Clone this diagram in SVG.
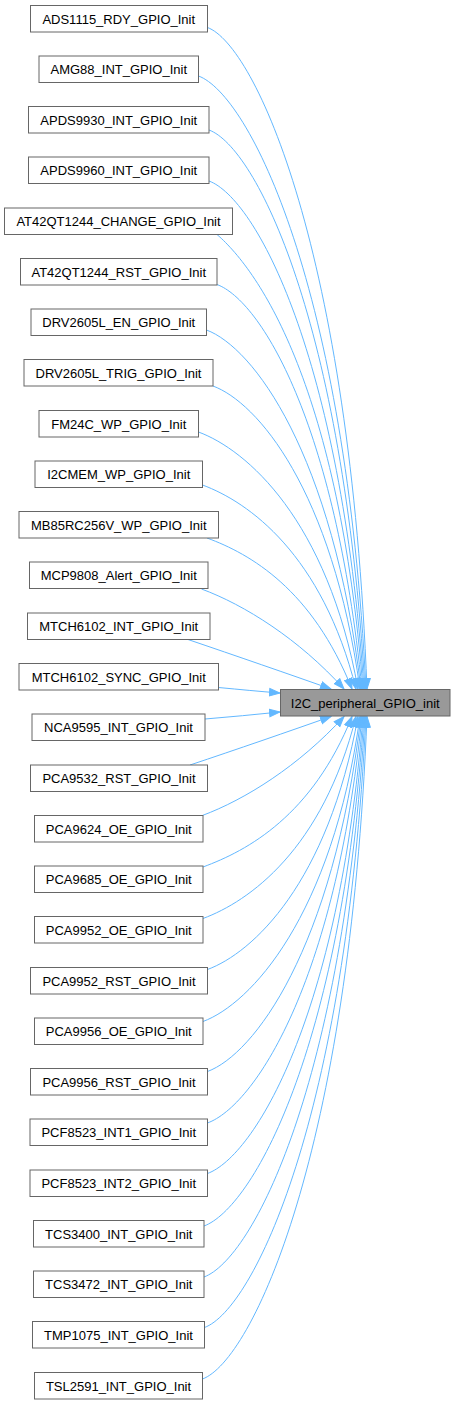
<svg xmlns="http://www.w3.org/2000/svg" width="455" height="1405" viewBox="0 0 455 1405">
<style>
.n rect{fill:#ffffff;stroke:#666666;stroke-width:1}
.t rect{fill:#999999;stroke:#666666;stroke-width:1}
text{font-family:"Liberation Sans",Arial,sans-serif;font-size:13px;fill:#000000;text-anchor:middle}
.e path{fill:none;stroke:#63b8ff;stroke-width:1;marker-end:url(#ah)}
</style>
<defs>
<marker id="ah" markerUnits="userSpaceOnUse" markerWidth="12" markerHeight="10" viewBox="0 0 12 10" refX="11" refY="5" orient="auto"><path d="M0.5,1.2 L11,5 L0.5,8.8 Z" fill="#63b8ff" stroke="#63b8ff" stroke-width="1"/></marker>
</defs>
<rect width="455" height="1405" fill="#ffffff"/>
<g class="e" id="edges">
<path d="M207.5,27.5 C255,45 350,250 367,689"/>
<path d="M198.5,76 C248.8,94.6 345.8,284.4 366,689"/>
<path d="M209,130 C255.8,147.3 342.9,320.1 365,689"/>
<path d="M209,181 C255.5,198.2 340.5,353.7 364,689"/>
<path d="M217,234.5 C260.8,272.5 339,389 363,689"/>
<path d="M217,284.5 C260.5,300.6 335.3,422 362,689"/>
<path d="M206.5,330 C252.9,347.2 332.6,452 361,689"/>
<path d="M213,386 C257.1,402.3 332,489 360,689"/>
<path d="M198.5,432 C246.4,449.7 327.5,519.4 358,689"/>
<path d="M202.5,485 C248.6,502 322.3,554.4 356,689"/>
<path d="M207,538 C250.5,554 312.1,589.3 352,689"/>
<path d="M201.5,589 C244.3,604.8 299,639 344,689"/>
<path d="M188,639.5 C235,655.5 290,674.5 331,689"/>
<path d="M218.5,687.5 C240,689.5 260,691.5 280,693"/>
<path d="M205,719 C230,717 255,714.5 280,712"/>
<path d="M190,765 C235,750 290,731 331,716.5"/>
<path d="M202.3,815.5 C244.8,799.7 299,766 344,716.5"/>
<path d="M203,867 C247.7,850.5 312.1,815.7 352,716.5"/>
<path d="M203,918.5 C248.9,901.5 322.6,849.7 356,716.5"/>
<path d="M207.5,969.5 C252.7,952.8 327.9,883.3 358,716.5"/>
<path d="M203,1021.5 C250.1,1004.1 331.8,917.6 360,716.5"/>
<path d="M207.5,1071.5 C253.6,1054.5 332.8,950.6 361,716.5"/>
<path d="M207.5,1123 C253.9,1105.9 335.1,984.6 362,716.5"/>
<path d="M207.5,1173.5 C254.2,1156.2 338.8,1018 363,716.5"/>
<path d="M204,1226 C252,1208.2 340.4,1052.6 364,716.5"/>
<path d="M204,1277 C252.3,1259.1 342.8,1086.3 365,716.5"/>
<path d="M204.5,1327.5 C253,1309.6 345.8,1120 366,716.5"/>
<path d="M202.5,1379 C251.9,1360.7 349.5,1154 367,716.5"/>
</g>
<g class="t" id="target"><rect x="280.5" y="689.5" width="169.5" height="26.5"/><text x="365.25" y="707.5">I2C_peripheral_GPIO_init</text></g>
<g class="n" id="n0"><rect x="30.5" y="5.5" width="177" height="26.5"/><text x="118.75" y="23.5">ADS1115_RDY_GPIO_Init</text></g>
<g class="n" id="n1"><rect x="39" y="56" width="159.5" height="26.5"/><text x="118.75" y="74">AMG88_INT_GPIO_Init</text></g>
<g class="n" id="n2"><rect x="28.5" y="106.5" width="180.5" height="26.5"/><text x="118.75" y="124.5">APDS9930_INT_GPIO_Init</text></g>
<g class="n" id="n3"><rect x="28.5" y="157" width="180.5" height="26.5"/><text x="118.75" y="175">APDS9960_INT_GPIO_Init</text></g>
<g class="n" id="n4"><rect x="4.5" y="208" width="228" height="26.5"/><text x="118.5" y="226">AT42QT1244_CHANGE_GPIO_Init</text></g>
<g class="n" id="n5"><rect x="20.5" y="258.5" width="196.5" height="26.5"/><text x="118.75" y="276.5">AT42QT1244_RST_GPIO_Init</text></g>
<g class="n" id="n6"><rect x="31" y="309" width="175.5" height="26.5"/><text x="118.75" y="327">DRV2605L_EN_GPIO_Init</text></g>
<g class="n" id="n7"><rect x="24" y="359.5" width="189" height="26.5"/><text x="118.5" y="377.5">DRV2605L_TRIG_GPIO_Init</text></g>
<g class="n" id="n8"><rect x="39" y="410.5" width="159.5" height="26.5"/><text x="118.75" y="428.5">FM24C_WP_GPIO_Init</text></g>
<g class="n" id="n9"><rect x="35" y="461" width="167.5" height="26.5"/><text x="118.75" y="479">I2CMEM_WP_GPIO_Init</text></g>
<g class="n" id="n10"><rect x="19" y="511.5" width="199.5" height="26.5"/><text x="118.75" y="529.5">MB85RC256V_WP_GPIO_Init</text></g>
<g class="n" id="n11"><rect x="29.5" y="562" width="178.5" height="26.5"/><text x="118.75" y="580">MCP9808_Alert_GPIO_Init</text></g>
<g class="n" id="n12"><rect x="27.5" y="613" width="182.5" height="26.5"/><text x="118.75" y="631">MTCH6102_INT_GPIO_Init</text></g>
<g class="n" id="n13"><rect x="19" y="663.5" width="199.5" height="26.5"/><text x="118.75" y="681.5">MTCH6102_SYNC_GPIO_Init</text></g>
<g class="n" id="n14"><rect x="32" y="714" width="173" height="26.5"/><text x="118.5" y="732">NCA9595_INT_GPIO_Init</text></g>
<g class="n" id="n15"><rect x="30.5" y="765" width="177" height="26.5"/><text x="119" y="783">PCA9532_RST_GPIO_Init</text></g>
<g class="n" id="n16"><rect x="34.5" y="815.5" width="168.5" height="26.5"/><text x="118.75" y="833.5">PCA9624_OE_GPIO_Init</text></g>
<g class="n" id="n17"><rect x="34.5" y="866" width="168.5" height="26.5"/><text x="118.75" y="884">PCA9685_OE_GPIO_Init</text></g>
<g class="n" id="n18"><rect x="34.5" y="916.5" width="168.5" height="26.5"/><text x="118.75" y="934.5">PCA9952_OE_GPIO_Init</text></g>
<g class="n" id="n19"><rect x="30.5" y="967.5" width="177" height="26.5"/><text x="119" y="985.5">PCA9952_RST_GPIO_Init</text></g>
<g class="n" id="n20"><rect x="34.5" y="1018" width="168.5" height="26.5"/><text x="118.75" y="1036">PCA9956_OE_GPIO_Init</text></g>
<g class="n" id="n21"><rect x="30.5" y="1068.5" width="177" height="26.5"/><text x="119" y="1086.5">PCA9956_RST_GPIO_Init</text></g>
<g class="n" id="n22"><rect x="30" y="1119" width="177.5" height="26.5"/><text x="118.75" y="1137">PCF8523_INT1_GPIO_Init</text></g>
<g class="n" id="n23"><rect x="30" y="1170" width="177.5" height="26.5"/><text x="118.75" y="1188">PCF8523_INT2_GPIO_Init</text></g>
<g class="n" id="n24"><rect x="33.5" y="1220.5" width="170.5" height="26.5"/><text x="118.75" y="1238.5">TCS3400_INT_GPIO_Init</text></g>
<g class="n" id="n25"><rect x="33.5" y="1271" width="170.5" height="26.5"/><text x="118.75" y="1289">TCS3472_INT_GPIO_Init</text></g>
<g class="n" id="n26"><rect x="32.5" y="1321.5" width="172" height="26.5"/><text x="118.5" y="1339.5">TMP1075_INT_GPIO_Init</text></g>
<g class="n" id="n27"><rect x="34.5" y="1372.5" width="168" height="26.5"/><text x="118.5" y="1390.5">TSL2591_INT_GPIO_Init</text></g>
</svg>
